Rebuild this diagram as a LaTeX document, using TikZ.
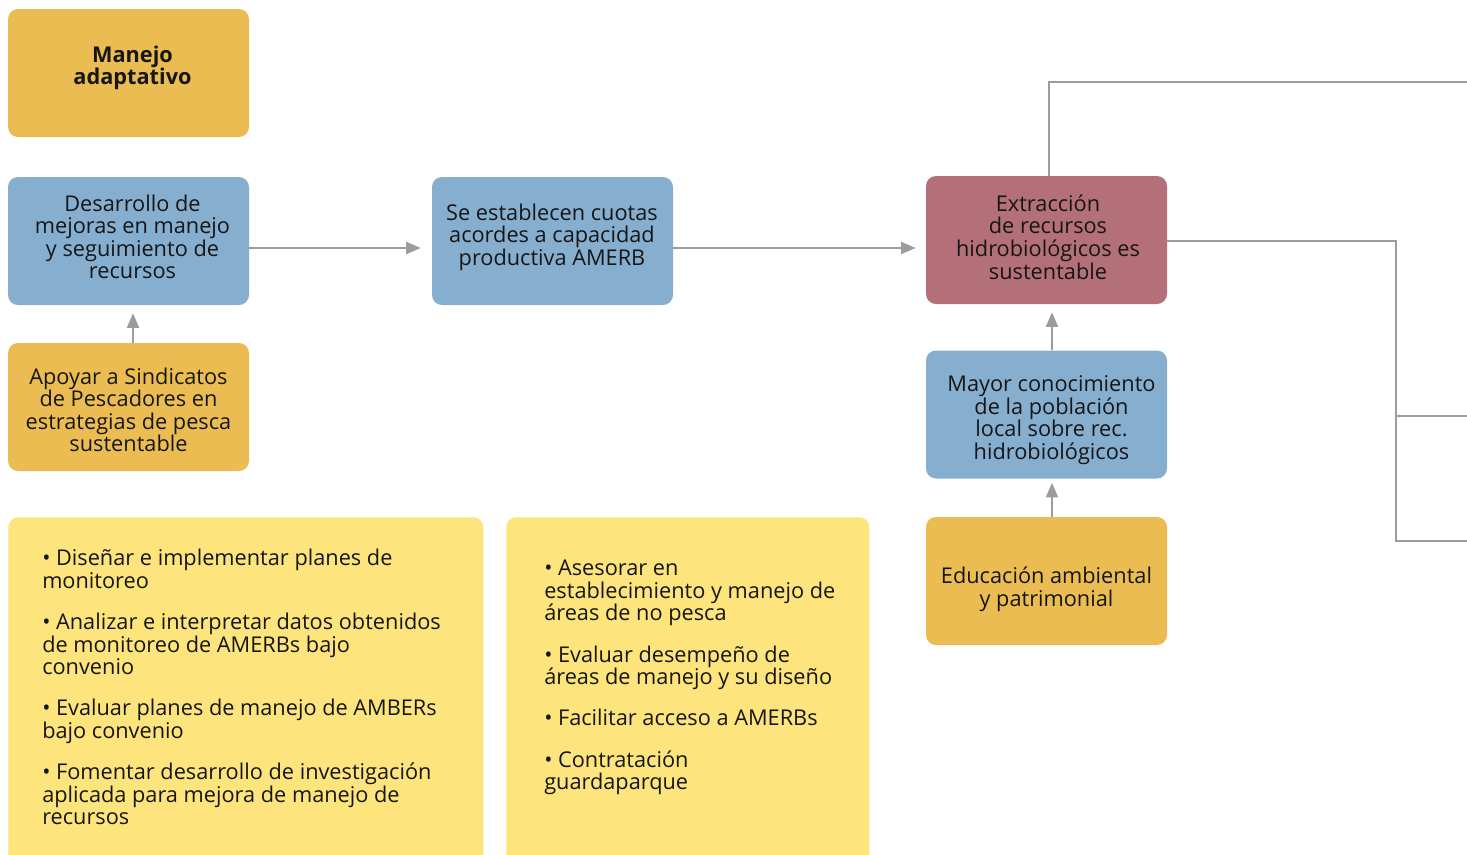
\documentclass[tikz,border=0pt]{standalone}
\usepackage{fontspec}
\setmainfont{Open Sans}
\usetikzlibrary{arrows.meta,calc}

\definecolor{ambar}{RGB}{235,188,82}
\definecolor{celeste}{RGB}{134,174,207}
\definecolor{rosado}{RGB}{179,112,120}
\definecolor{crema}{RGB}{253,228,124}
\definecolor{gris}{RGB}{155,155,160}
\definecolor{tinta}{RGB}{22,22,22}

\tikzset{
  box/.style={rounded corners=7.5pt, minimum width=180.75pt, minimum height=96pt,
    inner sep=0pt},
  boxtext/.style={inner sep=0pt, align=center, text=tinta,
    font=\fontsize{16.3}{16.9}\selectfont},
  listbox/.style={rounded corners=7.5pt, inner sep=0pt, fill=crema},
  listtext/.style={anchor=north west, inner sep=0pt, align=left, text=tinta,
    font=\fontsize{16.3}{16.9}\selectfont},
  conn/.style={draw=gris, line width=1.5pt},
  arr/.style={conn, -{Triangle[length=11pt,width=9pt]}},
}

\begin{document}
\begin{tikzpicture}[x=0.75pt, y=-0.75pt]
\clip (0,0) rectangle (1467,854);
\fill[white] (0,0) rectangle (1467,854);

% column of adaptive management boxes
\node[box, fill=ambar] (manejo) at (128.5,73) {};
\node[box, fill=celeste] (desarrollo) at (128.5,241) {};
\node[box, fill=ambar] (apoyar) at (128.5,407) {};
\node[boxtext, font=\fontsize{16.3}{16.9}\selectfont\bfseries] (manejoT) at (132.5,68) {Manejo\\adaptativo};
\node[boxtext] (desarrolloT) at (132.5,237) {Desarrollo de\\mejoras en manejo\\y seguimiento de\\recursos};
\node[boxtext] (apoyarT) at (128.5,410) {Apoyar a Sindicatos\\de Pescadores en\\estrategias de pesca\\sustentable};

% quotas and outcome
\node[box, fill=celeste] (cuotas) at (552.5,241) {};
\node[box, fill=rosado] (extraccion) at (1046.5,240) {};
\node[box, fill=celeste] (conocimiento) at (1046.5,414.5) {};
\node[box, fill=ambar] (educacion) at (1046.5,581) {};
\node[boxtext] (cuotasT) at (552,237) {Se establecen cuotas\\acordes a capacidad\\productiva AMERB};
\node[boxtext] (extraccionT) at (1048,237) {Extracción\\de recursos\\hidrobiológicos es\\sustentable};
\node[boxtext] (conocimientoT) at (1051.5,420) {Mayor conocimiento\\de la población\\local sobre rec.\\hidrobiológicos};
\node[boxtext] (educacionT) at (1046.5,589.5) {Educación ambiental\\y patrimonial};

% activity lists
\node[listbox, minimum width=356.25pt, minimum height=270pt, anchor=north west] (lista1) at (8,517) {};
\node[listbox, minimum width=272.25pt, minimum height=270pt, anchor=north west] (lista2) at (506,517) {};

\node[listtext] (items1) at (42,549) {%
• Diseñar e implementar planes de\\monitoreo\\[14pt]
• Analizar e interpretar datos obtenidos\\de monitoreo de AMERBs bajo\\convenio\\[14pt]
• Evaluar planes de manejo de AMBERs\\bajo convenio\\[14pt]
• Fomentar desarrollo de investigación\\aplicada para mejora de manejo de\\recursos};

\node[listtext] (items2) at (544,560) {%
• Asesorar en\\establecimiento y manejo de\\áreas de no pesca\\[14pt]
• Evaluar desempeño de\\áreas de manejo y su diseño\\[14pt]
• Facilitar acceso a AMERBs\\[14pt]
• Contratación\\guardaparque};

% arrows
\draw[arr] ($(desarrollo.east)+(0,7)$) -- ($(cuotas.west)+(-11,7)$);
\draw[arr] ($(cuotas.east)+(0,7)$) -- ($(extraccion.west)+(-10,8)$);
\draw[arr] ($(apoyar.north)+(4.5,0)$) -- ($(desarrollo.south)+(4.5,8)$);
\draw[arr] ($(conocimiento.north)+(5.5,0)$) -- ($(extraccion.south)+(5.5,8)$);
\draw[arr] ($(educacion.north)+(5.5,0)$) -- ($(conocimiento.south)+(5.5,4)$);

% outgoing connectors to the right
\coordinate (salidaA) at (1467,82);
\coordinate (codo) at (1396,241);
\coordinate (salidaB) at (1467,416);
\coordinate (salidaC) at (1467,541);
\draw[conn] ($(extraccion.north)+(2.5,0)$) |- (salidaA);
\draw[conn] ($(extraccion.east)+(0,1)$) -- (codo) |- (salidaC);
\draw[conn] (codo |- salidaB) -- (salidaB);
\end{tikzpicture}
\end{document}
